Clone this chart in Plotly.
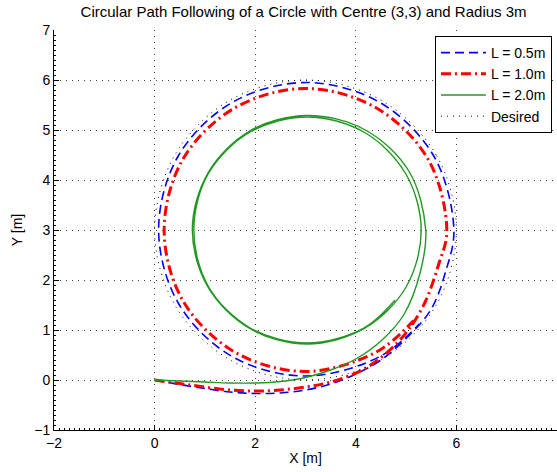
import plotly.graph_objects as go

# ---- data ----
blue_x = [0, 0.5, 1.0, 1.5, 2.0, 2.5, 3.0, 3.5, 4.0, 4.5, 5.05, 5.5, 5.78, 5.95,
          5.55, 4.48, 3.01, 1.54, 0.47, 0.08, 0.47, 1.54, 3.01, 4.48, 5.26]
blue_y = [0, -0.09, -0.17, -0.24, -0.27, -0.26, -0.2, -0.08, 0.12, 0.4, 0.88, 1.42, 2.15, 3.01,
          4.48, 5.55, 5.95, 5.55, 4.48, 3.01, 1.54, 0.47, 0.08, 0.47, 1.12]

red_x = [0, 0.5, 1.0, 1.5, 2.0, 2.5, 3.0, 3.5, 4.2, 4.86, 5.32, 5.65, 5.81,
         5.44, 4.41, 3.0, 1.59, 0.56, 0.19, 0.56, 1.59, 3.0, 4.41, 5.15]
red_y = [0, -0.07, -0.14, -0.2, -0.22, -0.2, -0.14, -0.04, 0.24, 0.78, 1.44, 2.32, 3.0,
         4.41, 5.44, 5.83, 5.44, 4.41, 3.0, 1.59, 0.56, 0.17, 0.56, 1.19]

green_x = [0, 0.5, 1.0, 1.5, 2.0, 2.5, 3.0, 3.5, 4.0, 4.5, 4.95, 5.28, 5.39,
           5.06, 4.19, 3.03, 1.89, 1.06, 0.75, 1.06, 1.89, 3.03, 4.17, 5.0, 5.30,
           4.99, 4.16, 3.03, 1.90, 1.07, 0.78, 1.07, 1.90, 3.03, 4.16, 4.78]
green_y = [0, -0.02, -0.04, -0.06, -0.06, -0.03, 0.05, 0.2, 0.42, 0.78, 1.3, 2.15, 3.0,
           4.17, 5.0, 5.29, 4.98, 4.14, 3.0, 1.86, 1.03, 0.72, 1.03, 1.86, 3.0,
           4.13, 4.96, 5.26, 4.96, 4.13, 3.0, 1.87, 1.04, 0.74, 1.04, 1.6]

desired_x = [6.0, 5.598, 4.5, 3.0, 1.5, 0.402, 0.0, 0.402, 1.5, 3.0, 4.5, 5.598, 6.0]
desired_y = [3.0, 4.5, 5.598, 6.0, 5.598, 4.5, 3.0, 1.5, 0.402, 0.0, 0.402, 1.5, 3.0]

series_names = ["L = 0.5m", "L = 1.0m", "L = 2.0m", "Desired"]
x_ticks = [-2, 0, 2, 4, 6, 8]
y_ticks = [-1, 0, 1, 2, 3, 4, 5, 6, 7]

FONT = "Liberation Sans, Arial, sans-serif"

fig = go.Figure()
fig.add_trace(go.Scatter(x=blue_x, y=blue_y, mode="lines", name=series_names[0],
                         line=dict(color="#0000ff", width=1.6, dash="9px,5px", shape="spline")))
fig.add_trace(go.Scatter(x=red_x, y=red_y, mode="lines", name=series_names[1],
                         line=dict(color="#ff0000", width=3, dash="10px,4px,2px,4px", shape="spline")))
fig.add_trace(go.Scatter(x=green_x, y=green_y, mode="lines", name=series_names[2],
                         line=dict(color="#229922", width=1.4, shape="spline")))
fig.add_trace(go.Scatter(x=desired_x, y=desired_y, mode="lines", name=series_names[3],
                         line=dict(color="#000000", width=1, dash="1px,5px", shape="spline")))

axis_common = dict(
    showline=True, linecolor="black", linewidth=1, mirror=False,
    ticks="inside", ticklen=5, tickcolor="black", tickwidth=1,
    showgrid=True, gridcolor="#444444", gridwidth=1, griddash="1px,5px",
    zeroline=False,
    tickfont=dict(family=FONT, size=14, color="black"),
    minor=dict(ticks="inside", ticklen=2, tickcolor="black", dtick=0.1, showgrid=False),
)

fig.update_layout(
    width=557, height=472,
    margin=dict(l=54, r=0, t=30, b=42),
    paper_bgcolor="white", plot_bgcolor="white",
    font=dict(family=FONT, size=14, color="black"),
    title=dict(text="Circular Path Following of a Circle with Centre (3,3) and Radius 3m",
               x=0.545, xanchor="center", y=1 - 12 / 472, yanchor="middle",
               font=dict(family=FONT, size=15, color="black")),
    xaxis=dict(range=[-2, 8], tickvals=x_ticks, title=dict(text="X [m]", standoff=3,
               font=dict(family=FONT, size=14)), **axis_common),
    yaxis=dict(range=[-1, 7], tickvals=y_ticks, title=dict(text="Y [m]", standoff=8,
               font=dict(family=FONT, size=14)), **axis_common),
    legend=dict(x=0.99, xanchor="right", y=0.985, yanchor="top",
                bgcolor="white", bordercolor="black", borderwidth=1,
                font=dict(family=FONT, size=14, color="black"),
                tracegroupgap=0, itemwidth=45),
    showlegend=True,
)

fig.write_html("out.html")
